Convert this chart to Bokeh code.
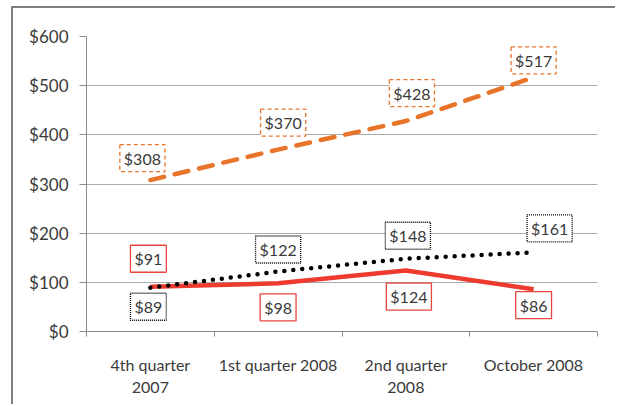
from bokeh.plotting import figure
from bokeh.models import Range1d, FixedTicker, NumeralTickFormatter, ColumnDataSource
from bokeh.core.properties import value
from bokeh.embed import file_html
from bokeh.resources import INLINE

categories = ["4th quarter\n2007", "1st quarter 2008", "2nd quarter\n2008", "October 2008"]
series_orange = [308, 370, 428, 517]
series_black = [89, 122, 148, 161]
series_red = [91, 98, 124, 86]
y_ticks = [0, 100, 200, 300, 400, 500, 600]

# label placement (screen px offsets from points)
off_orange_x = [-8, 5, 6, 0]
off_orange_y = [22, 27, 28, 17]
off_black_x = [-2, 0, 2, 16]
off_black_y = [-19, 22, 23, 24]
off_red_x = [-2, 0, 3, 0]
off_red_y = [28, -24, -26, -16]

FONT = "Lato"
TXT = "#3a3a3a"
ORANGE = "#E8742A"
RED = "#EE3B2F"
BLACK = "#000000"

xs = [i + 0.5 for i in range(len(categories))]

p = figure(width=604, height=398, output_backend="svg", toolbar_location=None,
           x_range=Range1d(0, len(categories)), y_range=Range1d(0, 600),
           min_border_left=73, min_border_right=20, min_border_top=28, min_border_bottom=75)
p.styles = {"border-left": "2px solid #7f7f7f", "border-top": "2px solid #7f7f7f",
            "margin-left": "11px", "margin-top": "6px"}
p.outline_line_color = None
p.background_fill_color = "white"
p.border_fill_color = "white"

p.xgrid.grid_line_color = None
p.ygrid.grid_line_color = "#ababab"
p.ygrid.grid_line_width = 1

xa = p.xaxis[0]
xa.ticker = FixedTicker(ticks=xs, minor_ticks=list(range(len(categories) + 1)))
xa.major_label_overrides = {x: c for x, c in zip(xs, categories)}
xa.major_tick_line_color = None
xa.major_tick_out = 0
xa.major_tick_in = 0
xa.minor_tick_line_color = "#8a8a8a"
xa.minor_tick_out = 5
xa.minor_tick_in = 0
xa.axis_line_color = "#8a8a8a"
xa.major_label_standoff = 18
xa.major_label_text_font = FONT
xa.major_label_text_font_size = "16px"
xa.major_label_text_color = TXT

ya = p.yaxis[0]
ya.ticker = FixedTicker(ticks=y_ticks)
ya.formatter = NumeralTickFormatter(format="$0")
ya.minor_tick_line_color = None
ya.major_tick_line_color = "#8a8a8a"
ya.major_tick_out = 7
ya.major_tick_in = 0
ya.axis_line_color = "#8a8a8a"
ya.major_label_standoff = 11
ya.major_label_text_font = FONT
ya.major_label_text_font_size = "17px"
ya.major_label_text_color = TXT

p.line(xs, series_orange, line_color=ORANGE, line_width=4.5, line_dash="14 11", line_cap="round")
p.line(xs, series_red, line_color=RED, line_width=4.5)
p.line(xs, series_black, line_color=BLACK, line_width=4.5, line_dash="0 9", line_cap="round")


def labels(vals, ox, oy, dash, bcolor):
    src = ColumnDataSource(dict(x=xs, y=vals, t=["$%d" % v for v in vals], ox=ox, oy=[-v for v in oy]))
    p.text(x="x", y="y", text="t", source=src, x_offset="ox", y_offset="oy",
           text_align="center", text_baseline="middle",
           text_font=value(FONT), text_font_size="16px", text_color=TXT,
           background_fill_color="white", border_line_color=bcolor,
           border_line_dash=dash, border_line_width=1.3, padding=4)


labels(series_orange, off_orange_x, off_orange_y, "4 3", ORANGE)
labels(series_black, off_black_x, off_black_y, "1 1", BLACK)
labels(series_red, off_red_x, off_red_y, "solid", "#E8453E")

open("out.html", "w").write(file_html(p, INLINE))
